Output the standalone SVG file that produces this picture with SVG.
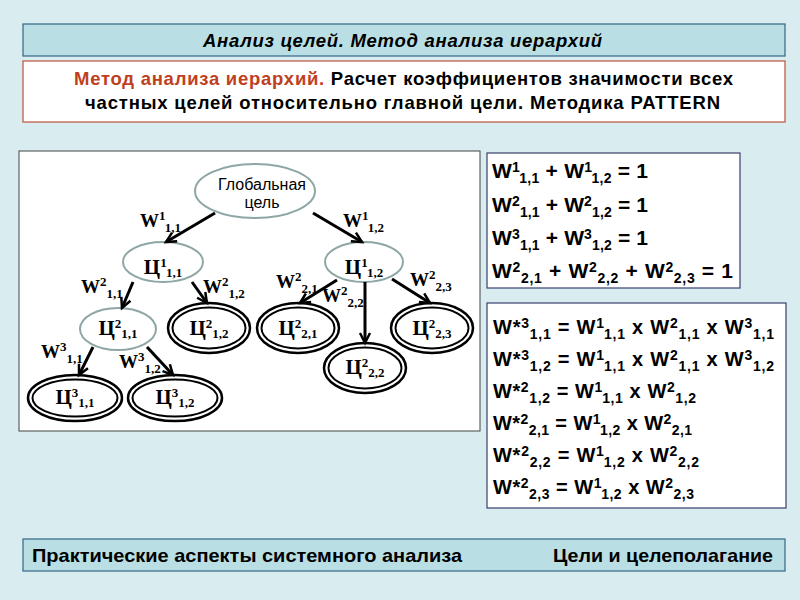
<svg xmlns="http://www.w3.org/2000/svg" width="800" height="600" viewBox="0 0 800 600">
<defs>
<style>
.bg{fill:#d9edf0}
.band{fill:#b9dfe4;stroke:#3f6f8c;stroke-width:1.3}
.title{font-family:"Liberation Sans",Arial,sans-serif;font-weight:bold;font-style:italic;font-size:18.5px;fill:#000}
.sub-head{font-family:"Liberation Sans",Arial,sans-serif;font-weight:bold;font-size:18.5px;fill:#000}
.red{fill:#c0401e}
.foot{font-family:"Liberation Sans Narrow","Liberation Sans",Arial,sans-serif;font-weight:bold;font-size:19px;fill:#000}
.frame{fill:#fff;stroke:#444;stroke-width:1}
.fbox{fill:#fff;stroke:#3a3f6e;stroke-width:1.2}
.f1{font-family:"Liberation Sans",Arial,sans-serif;font-weight:bold;font-size:21px;fill:#000}
.f2{font-family:"Liberation Sans",Arial,sans-serif;font-weight:bold;font-size:20px;fill:#000}
.fs{font-size:14px}
.gray{fill:#fff;stroke:#8ea6a6;stroke-width:2}
.dbl{fill:#fff;stroke:#000;stroke-width:2.5}
.dbl2{fill:none;stroke:#000;stroke-width:2}
.gt{font-family:"Liberation Sans",Arial,sans-serif;font-size:16px;fill:#000;text-anchor:middle}
.ct{font-family:"Liberation Serif","Times New Roman",serif;font-weight:bold;font-size:21px;fill:#000;text-anchor:middle}
.wl{font-family:"Liberation Serif","Times New Roman",serif;font-weight:bold;font-size:19px;fill:#000}
.sm{font-size:13px}
</style>
<marker id="arr" markerUnits="userSpaceOnUse" markerWidth="14" markerHeight="14" refX="11" refY="6" orient="auto" viewBox="0 0 14 12">
<path d="M1,1 L11,6 L1,11" fill="none" stroke="#000" stroke-width="2.5"/>
</marker>
</defs>

<rect class="bg" x="0" y="0" width="800" height="600"/>

<g id="header">
<rect class="band" x="23" y="24" width="762" height="32"/>
<text class="title" x="203" y="47" textLength="399" lengthAdjust="spacing">Анализ целей. Метод анализа иерархий</text>
</g>

<g id="subtitle">
<rect x="23" y="61" width="762" height="61" fill="#fff" stroke="#c0604a" stroke-width="1.3"/>
<text class="sub-head" x="74" y="85" textLength="659" lengthAdjust="spacing"><tspan class="red">Метод анализа иерархий.</tspan> Расчет коэффициентов значимости всех</text>
<text class="sub-head" x="85" y="109" textLength="635" lengthAdjust="spacing">частных целей относительно главной цели. Методика PATTERN</text>
</g>

<rect class="frame" x="19" y="151" width="461" height="280"/>

<g id="n-global">
<ellipse class="gray" cx="255" cy="191" rx="60" ry="27"/>
<text class="gt" x="262" y="190">Глобальная</text>
<text class="gt" x="262" y="208">цель</text>
</g>

<g id="n-c11">
<ellipse class="gray" cx="163" cy="262" rx="40" ry="20"/>
<text class="ct" x="163" y="274">Ц<tspan class="sm" dy="-7">1</tspan><tspan class="sm" dy="10">1,1</tspan></text>
</g>

<g id="n-c12">
<ellipse class="gray" cx="364" cy="262" rx="39" ry="20"/>
<text class="ct" x="364" y="274">Ц<tspan class="sm" dy="-7">1</tspan><tspan class="sm" dy="10">1,2</tspan></text>
</g>

<g id="n-c211">
<ellipse class="gray" cx="118" cy="329" rx="38" ry="21"/>
<text class="ct" x="118" y="335">Ц<tspan class="sm" dy="-7">2</tspan><tspan class="sm" dy="10">1,1</tspan></text>
</g>

<g id="n-c212">
<ellipse class="dbl" cx="209" cy="328" rx="41" ry="25"/>
<ellipse class="dbl2" cx="209" cy="328" rx="36.5" ry="20.5"/>
<text class="ct" x="209" y="335">Ц<tspan class="sm" dy="-7">2</tspan><tspan class="sm" dy="10">1,2</tspan></text>
</g>

<g id="n-c221">
<ellipse class="dbl" cx="298" cy="328" rx="41" ry="25"/>
<ellipse class="dbl2" cx="298" cy="328" rx="36.5" ry="20.5"/>
<text class="ct" x="298" y="335">Ц<tspan class="sm" dy="-7">2</tspan><tspan class="sm" dy="10">2,1</tspan></text>
</g>

<g id="n-c222">
<ellipse class="dbl" cx="365" cy="368" rx="41" ry="25"/>
<ellipse class="dbl2" cx="365" cy="368" rx="36.5" ry="20.5"/>
<text class="ct" x="365" y="374">Ц<tspan class="sm" dy="-7">2</tspan><tspan class="sm" dy="10">2,2</tspan></text>
</g>

<g id="n-c223">
<ellipse class="dbl" cx="432" cy="328" rx="41" ry="25"/>
<ellipse class="dbl2" cx="432" cy="328" rx="36.5" ry="20.5"/>
<text class="ct" x="432" y="335">Ц<tspan class="sm" dy="-7">2</tspan><tspan class="sm" dy="10">2,3</tspan></text>
</g>

<g id="n-c311">
<ellipse class="dbl" cx="75" cy="398" rx="47" ry="23"/>
<ellipse class="dbl2" cx="75" cy="398" rx="42.5" ry="18.5"/>
<text class="ct" x="75" y="404">Ц<tspan class="sm" dy="-7">3</tspan><tspan class="sm" dy="10">1,1</tspan></text>
</g>

<g id="n-c312">
<ellipse class="dbl" cx="175" cy="398" rx="47" ry="23"/>
<ellipse class="dbl2" cx="175" cy="398" rx="42.5" ry="18.5"/>
<text class="ct" x="175" y="404">Ц<tspan class="sm" dy="-7">3</tspan><tspan class="sm" dy="10">1,2</tspan></text>
</g>

<g id="connectors" stroke="#000" stroke-width="3" fill="none" marker-end="url(#arr)">
<line x1="215" y1="213" x2="166" y2="242"/>
<line x1="313" y1="213" x2="362" y2="242"/>
<line x1="133" y1="282" x2="122" y2="308"/>
<line x1="192" y1="282" x2="207" y2="303"/>
<line x1="337" y1="280" x2="300" y2="303"/>
<line x1="365" y1="282" x2="365" y2="343"/>
<line x1="392" y1="279" x2="430" y2="303"/>
<line x1="93" y1="347" x2="79" y2="375"/>
<line x1="147" y1="347" x2="173" y2="375"/>
</g>

<g id="edge-labels">
<text class="wl" x="140" y="227">W<tspan class="sm" dy="-7">1</tspan><tspan class="sm" dy="12">1,1</tspan></text>
<text class="wl" x="343" y="227">W<tspan class="sm" dy="-7">1</tspan><tspan class="sm" dy="12">1,2</tspan></text>
<text class="wl" x="81" y="293">W<tspan class="sm" dy="-7">2</tspan><tspan class="sm" dy="12">1,1</tspan></text>
<text class="wl" x="203" y="293">W<tspan class="sm" dy="-7">2</tspan><tspan class="sm" dy="12">1,2</tspan></text>
<text class="wl" x="276" y="288">W<tspan class="sm" dy="-7">2</tspan><tspan class="sm" dy="12">2,1</tspan></text>
<text class="wl" x="322" y="302">W<tspan class="sm" dy="-7">2</tspan><tspan class="sm" dy="12">2,2</tspan></text>
<text class="wl" x="410" y="286">W<tspan class="sm" dy="-7">2</tspan><tspan class="sm" dy="12">2,3</tspan></text>
<text class="wl" x="41" y="358">W<tspan class="sm" dy="-7">3</tspan><tspan class="sm" dy="12">1,1</tspan></text>
<text class="wl" x="119" y="368">W<tspan class="sm" dy="-7">3</tspan><tspan class="sm" dy="12">1,2</tspan></text>
</g>

<g id="sums">
<rect class="fbox" x="487" y="153" width="253" height="135"/>
<text class="f1" x="492" y="178" textLength="156" lengthAdjust="spacing">W<tspan class="fs" dy="-6">1</tspan><tspan class="fs" dy="11">1,1</tspan><tspan dy="-5"> + W</tspan><tspan class="fs" dy="-6">1</tspan><tspan class="fs" dy="11">1,2</tspan><tspan dy="-5"> = 1</tspan></text>
<text class="f1" x="492" y="212" textLength="156" lengthAdjust="spacing">W<tspan class="fs" dy="-6">2</tspan><tspan class="fs" dy="11">1,1</tspan><tspan dy="-5"> + W</tspan><tspan class="fs" dy="-6">2</tspan><tspan class="fs" dy="11">1,2</tspan><tspan dy="-5"> = 1</tspan></text>
<text class="f1" x="492" y="245" textLength="156" lengthAdjust="spacing">W<tspan class="fs" dy="-6">3</tspan><tspan class="fs" dy="11">1,1</tspan><tspan dy="-5"> + W</tspan><tspan class="fs" dy="-6">3</tspan><tspan class="fs" dy="11">1,2</tspan><tspan dy="-5"> = 1</tspan></text>
<text class="f1" x="492" y="278" textLength="241" lengthAdjust="spacing">W<tspan class="fs" dy="-6">2</tspan><tspan class="fs" dy="11">2,1</tspan><tspan dy="-5"> + W</tspan><tspan class="fs" dy="-6">2</tspan><tspan class="fs" dy="11">2,2</tspan><tspan dy="-5"> + W</tspan><tspan class="fs" dy="-6">2</tspan><tspan class="fs" dy="11">2,3</tspan><tspan dy="-5"> = 1</tspan></text>
</g>

<g id="products">
<rect class="fbox" x="487" y="303" width="299" height="205"/>
<text class="f2" x="493" y="334" textLength="281" lengthAdjust="spacing">W*<tspan class="fs" dy="-6">3</tspan><tspan class="fs" dy="11">1,1</tspan><tspan dy="-5">  = W</tspan><tspan class="fs" dy="-6">1</tspan><tspan class="fs" dy="11">1,1</tspan><tspan dy="-5"> x W</tspan><tspan class="fs" dy="-6">2</tspan><tspan class="fs" dy="11">1,1</tspan><tspan dy="-5"> x W</tspan><tspan class="fs" dy="-6">3</tspan><tspan class="fs" dy="11">1,1</tspan></text>
<text class="f2" x="493" y="366" textLength="281" lengthAdjust="spacing">W*<tspan class="fs" dy="-6">3</tspan><tspan class="fs" dy="11">1,2</tspan><tspan dy="-5">  = W</tspan><tspan class="fs" dy="-6">1</tspan><tspan class="fs" dy="11">1,1</tspan><tspan dy="-5"> x W</tspan><tspan class="fs" dy="-6">2</tspan><tspan class="fs" dy="11">1,1</tspan><tspan dy="-5"> x W</tspan><tspan class="fs" dy="-6">3</tspan><tspan class="fs" dy="11">1,2</tspan></text>
<text class="f2" x="493" y="398" textLength="203" lengthAdjust="spacing">W*<tspan class="fs" dy="-6">2</tspan><tspan class="fs" dy="11">1,2</tspan><tspan dy="-5"> = W</tspan><tspan class="fs" dy="-6">1</tspan><tspan class="fs" dy="11">1,1</tspan><tspan dy="-5"> x W</tspan><tspan class="fs" dy="-6">2</tspan><tspan class="fs" dy="11">1,2</tspan></text>
<text class="f2" x="493" y="430" textLength="199" lengthAdjust="spacing">W*<tspan class="fs" dy="-6">2</tspan><tspan class="fs" dy="11">2,1</tspan><tspan dy="-5">  = W</tspan><tspan class="fs" dy="-6">1</tspan><tspan class="fs" dy="11">1,2</tspan><tspan dy="-5"> x W</tspan><tspan class="fs" dy="-6">2</tspan><tspan class="fs" dy="11">2,1</tspan></text>
<text class="f2" x="493" y="462" textLength="206" lengthAdjust="spacing">W*<tspan class="fs" dy="-6">2</tspan><tspan class="fs" dy="11">2,2</tspan><tspan dy="-5">  = W</tspan><tspan class="fs" dy="-6">1</tspan><tspan class="fs" dy="11">1,2</tspan><tspan dy="-5"> x W</tspan><tspan class="fs" dy="-6">2</tspan><tspan class="fs" dy="11">2,2</tspan></text>
<text class="f2" x="493" y="494" textLength="201" lengthAdjust="spacing">W*<tspan class="fs" dy="-6">2</tspan><tspan class="fs" dy="11">2,3</tspan><tspan dy="-5"> = W</tspan><tspan class="fs" dy="-6">1</tspan><tspan class="fs" dy="11">1,2</tspan><tspan dy="-5"> x W</tspan><tspan class="fs" dy="-6">2</tspan><tspan class="fs" dy="11">2,3</tspan></text>
</g>

<g id="footer">
<rect class="band" x="23" y="539" width="762" height="32"/>
<text class="foot" x="32" y="562" textLength="430" lengthAdjust="spacingAndGlyphs">Практические аспекты системного анализа</text>
<text class="foot" x="553" y="562" textLength="220" lengthAdjust="spacingAndGlyphs">Цели и целеполагание</text>
</g>
</svg>
